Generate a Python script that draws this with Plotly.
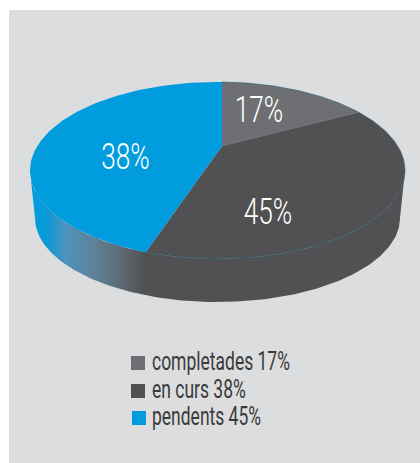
import numpy as np
import plotly.graph_objects as go

# ---- data ----
categories = ["completades", "en curs", "pendents"]
values = [17, 38, 45]
pie_labels = ["17%", "45%", "38%"]      # as printed on the slices in the reference
legend_labels = ["completades 17%", "en curs 38%", "pendents 45%"]
colors = ["#6e6f73", "#515153", "#009cdd"]

# ---- projection of the tilted disc ----
CX, CY, RX, RY = 217.5, 170.5, 187.5, 88.5      # top face ellipse
BCY, BRX, BRY = 218.0, 182.5, 84.0              # bottom face ellipse
APEX = (222.0, 146.0)                           # where the slices meet
P = np.array([(APEX[0] - CX) / RX, (APEX[1] - CY) / RY])
FONT = "Roboto"


def boost(p, q):
    """Projective map of the unit disc that sends 0 to p."""
    g = 1 / np.sqrt(1 - p @ p)
    pq = q @ p
    par = np.outer(pq / (p @ p), p)
    perp = q - par
    return (par + p + perp / g) / (1 + pq)[:, None]


# angle on the true circle which lands on the top of the ellipse at x = APEX x
start_pt = np.array([[P[0], -np.sqrt(1 - P[0] ** 2)]])
pre = boost(-P, start_pt)[0]
START = np.arctan2(pre[0], -pre[1])


def top_face(share):
    """Screen points for cumulative share(s) of the pie, clockwise from the top."""
    t = START + 2 * np.pi * np.asarray(share, float) / 100
    q = np.c_[np.sin(t), -np.cos(t)]
    n = boost(P, q)
    return CX + RX * n[:, 0], CY + RY * n[:, 1]


fig = go.Figure()

# ---- side wall ----
a = np.linspace(0, np.pi, 181)
top_x, top_y = CX + RX * np.cos(a), CY + RY * np.sin(a)
bot_x, bot_y = CX + BRX * np.cos(a), BCY + BRY * np.sin(a)
wall_x = np.r_[top_x, bot_x[::-1]]
wall_y = np.r_[top_y, bot_y[::-1]]
fig.add_trace(go.Scatter(x=wall_x, y=wall_y, mode="lines", fill="toself",
                         line=dict(width=0), hoverinfo="skip", showlegend=False,
                         fillgradient=dict(type="horizontal", start=30, stop=405,
                                           colorscale=[[0, "#009cdd"],
                                                       [0.045, "#0a9ad8"],
                                                       [0.095, "#4f93bc"],
                                                       [0.175, "#5f8096"],
                                                       [0.25, "#5d6871"],
                                                       [0.305, "#515153"],
                                                       [1, "#515153"]])))

# ---- top face slices ----
cum = np.r_[0, np.cumsum(values)]
for i, name in enumerate(categories):
    s = np.linspace(cum[i], cum[i + 1], 120)
    x, y = top_face(s)
    fig.add_trace(go.Scatter(x=np.r_[APEX[0], x, APEX[0]], y=np.r_[APEX[1], y, APEX[1]],
                             mode="lines", fill="toself", fillcolor=colors[i],
                             line=dict(width=0), name=name, hoverinfo="name",
                             showlegend=False))

# thin teal rim of the top face over the dark slice
s = np.linspace(cum[0], cum[2], 200)
x, y = top_face(s)
fig.add_trace(go.Scatter(x=x, y=y, mode="lines", line=dict(color="#2f6478", width=0.7),
                         hoverinfo="skip", showlegend=False))

# ---- slice labels ----
fig.add_trace(go.Scatter(x=[259, 268, 125.5], y=[113.5, 215, 160.5], mode="text",
                         text=pie_labels, textposition="middle center",
                         textfont=dict(family=FONT, size=36, weight=300, color="#ffffff"),
                         hoverinfo="skip", showlegend=False))

# ---- legend ----
fig.add_trace(go.Scatter(x=[138, 138, 139], y=[363, 391, 418], mode="markers",
                         marker=dict(symbol="square", size=14, color=colors, line=dict(width=0)),
                         hoverinfo="skip", showlegend=False))
fig.add_trace(go.Scatter(x=[152, 152, 152], y=[364, 392, 419], mode="text",
                         text=legend_labels, textposition="middle right",
                         textfont=dict(family=FONT, size=25, weight=400, color="#3a3a3c"),
                         hoverinfo="skip", showlegend=False))

fig.update_layout(
    width=420, height=463, margin=dict(l=0, r=0, t=0, b=0),
    paper_bgcolor="#ffffff", plot_bgcolor="#ffffff", showlegend=False,
    xaxis=dict(range=[0, 420], visible=False, fixedrange=True),
    yaxis=dict(range=[463, 0], visible=False, fixedrange=True),
    shapes=[dict(type="rect", layer="below", x0=9, x1=420, y0=10, y1=463,
                 fillcolor="#dcddde", line=dict(width=0))],
)

# the reference type is condensed: narrow the real text horizontally about its anchor
condense = """
document.body.style.margin = '0';
document.querySelectorAll('.textpoint text').forEach(function (t) {
  var x = parseFloat(t.getAttribute('x'));
  var s = parseFloat(t.style.fontSize) > 30 ? 0.73 : 0.70;
  t.setAttribute('transform', 'translate(' + x + ',0) scale(' + s + ',1) translate(' + (-x) + ',0)');
});
"""
fig.write_html("out.html", post_script=condense, config={"displayModeBar": False})
